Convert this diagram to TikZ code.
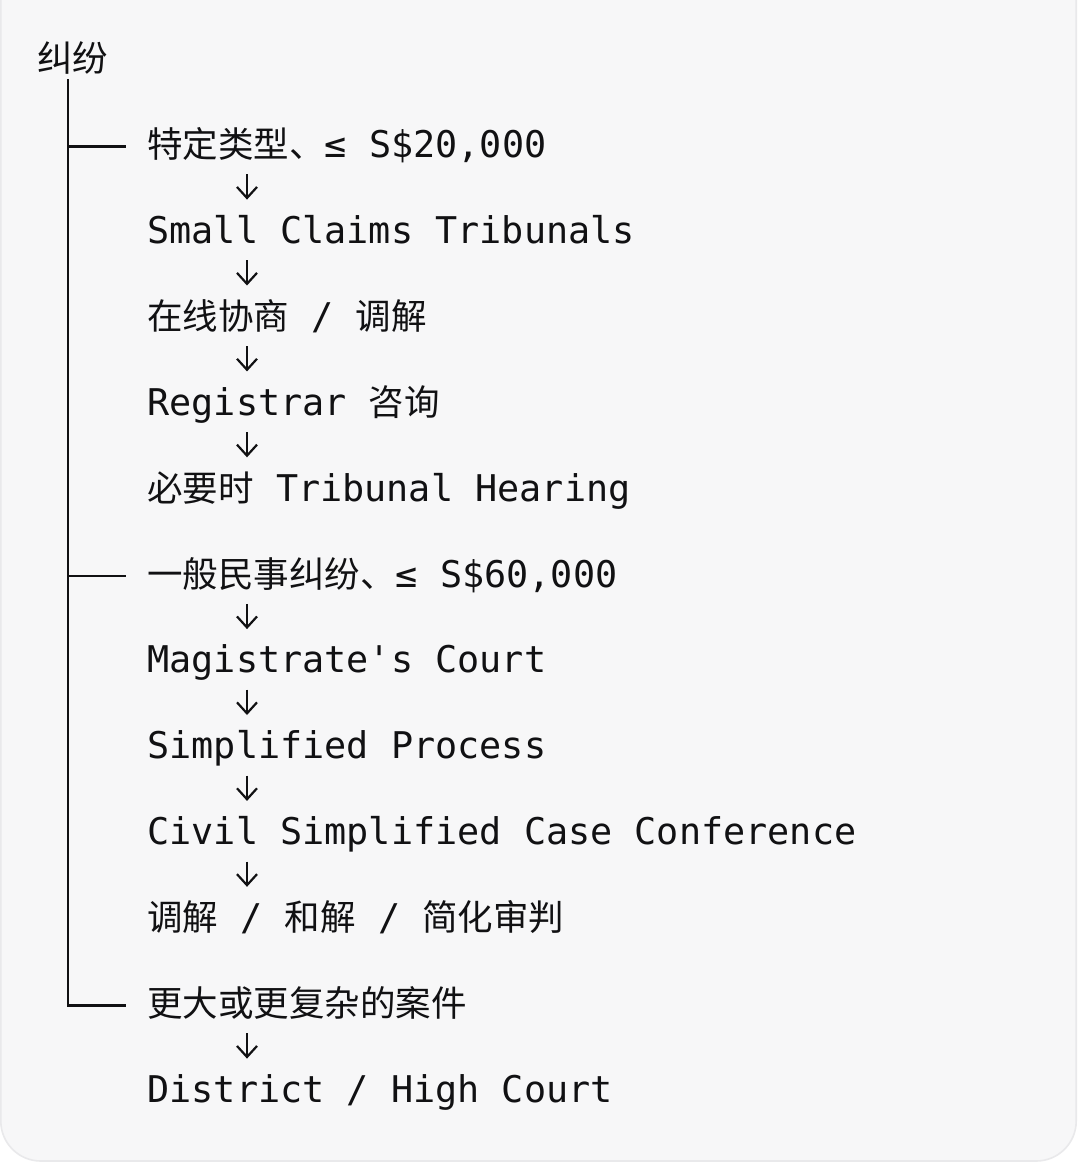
\documentclass[tikz,border=0pt]{standalone}
\usepackage{fontspec}
\setmonofont{DejaVu Sans Mono}
\newfontfamily\cjk{Noto Sans CJK SC}
\usetikzlibrary{positioning,arrows.meta}
\definecolor{cardbg}{HTML}{F7F7F8}
\definecolor{cardline}{HTML}{E9E9EB}
\definecolor{ink}{HTML}{111113}
\newcommand\zh[1]{{\cjk\fontsize{17.75pt}{22pt}\selectfont #1}}

\begin{document}
\begin{tikzpicture}[x=0.5pt,y=-0.5pt,
  row/.style={anchor=base west,inner sep=0pt,text height=14.7pt,text depth=3.7pt,
    font=\ttfamily\fontsize{18.4pt}{22pt}\selectfont,text=ink},
  tree/.style={line width=1.45pt,draw=ink},
  down/.style={-{Straight Barb[length=5.5pt,width=10pt]},line width=1.1pt,draw=ink}]
\useasboundingbox (0,0) rectangle (1077,1162);
\fill[white] (0,0) rectangle (1077,1162);
% card
\filldraw[fill=cardbg,draw=cardline,line width=0.8pt,rounded corners=20pt]
  (0.8,-60) -- (0.8,1161) -- (1076.2,1161) -- (1076.2,-60);
\coordinate (trunk) at (68,0);
\coordinate (acol) at (247,0);
\node[row] (root) at (37,71.5) {\zh{纠纷}};
        \foreach \i/\t in {0/{\zh{特定类型、}≤ S\$20,000},1/{Small Claims Tribunals},
                2/{\zh{在线协商} / \zh{调解}},3/{Registrar \zh{咨询}},
                4/{\zh{必要时} Tribunal Hearing},5/{\zh{一般民事纠纷、}≤ S\$60,000},
                6/{Magistrate's Court},7/{Simplified Process},
                8/{Civil Simplified Case Conference},
                9/{\zh{调解} / \zh{和解} / \zh{简化审判}},
                10/{\zh{更大或更复杂的案件}},11/{District / High Court}} {
                \node[row] (r\i) at (147,{157.5+85.9*\i}) {\t};
        }
% tree
\draw[tree,shorten >=10.5pt] (root.south -| trunk) |- (r10.west);
        \foreach \b in {0,5} {
                \draw[tree,shorten >=10.5pt] (trunk |- r\b.west) -- (r\b.west);
        }
% steps
        \foreach \from/\to in {0/1,1/2,2/3,3/4,5/6,6/7,7/8,8/9,10/11} {
                \draw[down,shorten <=4.5pt,shorten >=7pt] (r\from.south -| acol) -- (r\to.north -| acol);
        }
\end{tikzpicture}
\end{document}
